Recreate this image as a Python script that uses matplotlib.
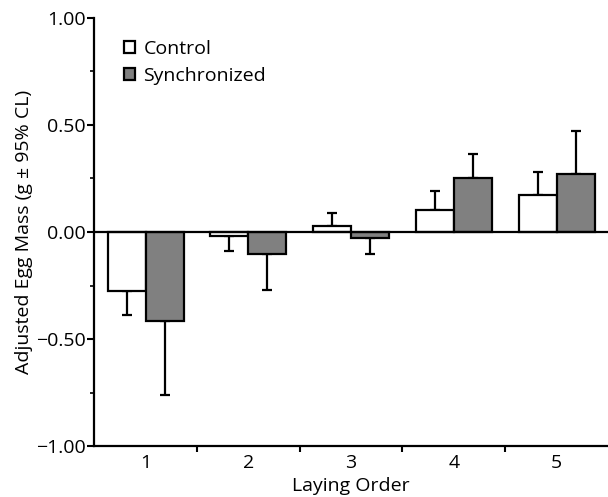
import matplotlib
matplotlib.use("Agg")
import matplotlib.pyplot as plt
import numpy as np
from matplotlib.ticker import FixedLocator, MultipleLocator

categories = ["1", "2", "3", "4", "5"]
control = [-0.276, -0.017, 0.028, 0.101, 0.171]
control_err = [0.110, 0.070, 0.061, 0.089, 0.108]
synchronized = [-0.414, -0.103, -0.030, 0.251, 0.270]
synchronized_err = [0.346, 0.167, 0.074, 0.115, 0.202]

plt.rcParams['font.family'] = ['Open Sans', 'DejaVu Sans']
FS = 14

fig = plt.figure(figsize=(6.08, 4.97), dpi=100)
ax = fig.add_axes([0.155, 0.1026, 0.845, 0.8612])

x = np.arange(1, len(categories) + 1)
w = 0.37

def one_sided(vals, errs):
    lo = [e if v < 0 else 0 for v, e in zip(vals, errs)]
    hi = [e if v >= 0 else 0 for v, e in zip(vals, errs)]
    return [lo, hi]

ax.bar(x - w / 2, control, w, color="white", edgecolor="black", linewidth=1.6,
       label="Control", zorder=3)
ax.bar(x + w / 2, synchronized, w, color="#808080", edgecolor="black", linewidth=1.6,
       label="Synchronized", zorder=3)
ax.errorbar(x - w / 2, control, yerr=one_sided(control, control_err), fmt="none",
            ecolor="black", elinewidth=1.6, capsize=3.5, capthick=1.6, zorder=2)
ax.errorbar(x + w / 2, synchronized, yerr=one_sided(synchronized, synchronized_err), fmt="none",
            ecolor="black", elinewidth=1.6, capsize=3.5, capthick=1.6, zorder=2)

ax.axhline(0, color="black", linewidth=1.6, zorder=4)

ax.set_xlim(0.5, 5.5)
ax.set_ylim(-1.0, 1.0)
ax.set_xticks(x)
ax.set_xticklabels(categories)
ax.xaxis.set_minor_locator(FixedLocator([1.5, 2.5, 3.5, 4.5]))
ax.tick_params(axis="x", which="major", length=0, pad=6, labelsize=FS)
ax.tick_params(axis="x", which="minor", length=4, width=1.5, direction="out")
ax.set_yticks([-1.0, -0.5, 0.0, 0.5, 1.0])
ax.set_yticklabels(["\u22121.00", "\u22120.50", "0.00", "0.50", "1.00"])
ax.yaxis.set_minor_locator(MultipleLocator(0.25))
ax.tick_params(axis="y", which="major", length=5, width=1.5, direction="out", labelsize=FS, pad=1)
ax.tick_params(axis="y", which="minor", length=3, width=1.2, direction="out")

for s in ["top", "right"]:
    ax.spines[s].set_visible(False)
for s in ["left", "bottom"]:
    ax.spines[s].set_linewidth(1.6)

ax.set_xlabel("Laying Order", fontsize=FS, labelpad=3)
ax.set_ylabel("Adjusted Egg Mass (g \u00b1 95% CL)", fontsize=FS, labelpad=2)

leg = ax.legend(loc="upper left", bbox_to_anchor=(0.024, 0.99), frameon=False,
                fontsize=FS, handlelength=0.55, handleheight=0.55, handletextpad=0.45,
                labelspacing=0.45)

fig.savefig("out.png", dpi=100)
